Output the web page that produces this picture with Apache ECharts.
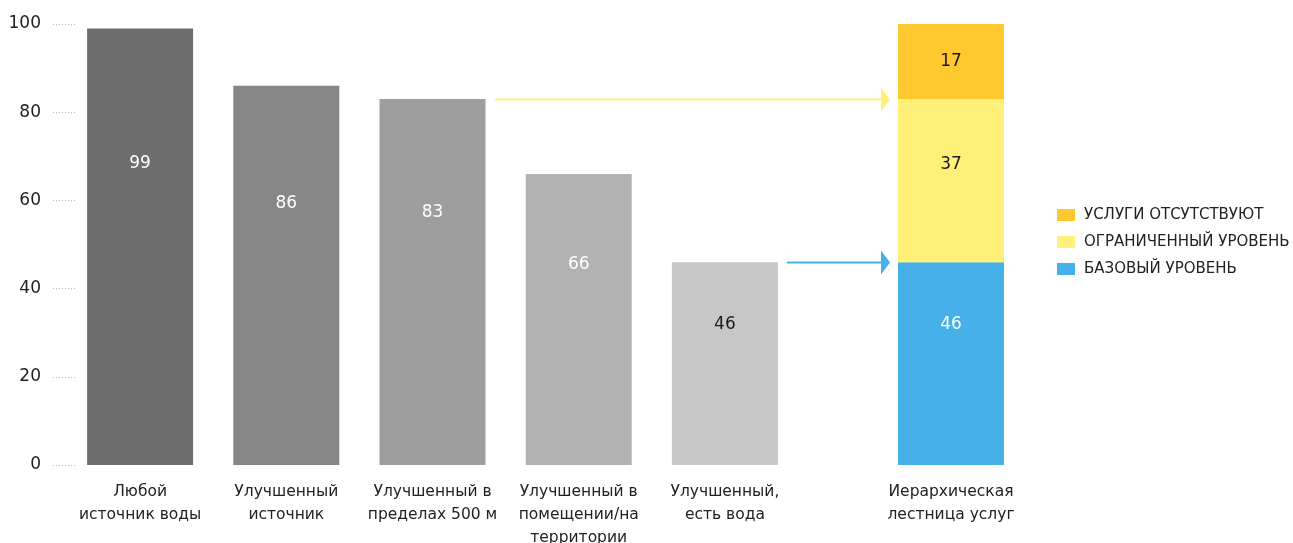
<!DOCTYPE html>
<html><head><meta charset="utf-8">
<script src="https://cdn.jsdelivr.net/npm/echarts@6/dist/echarts.min.js"></script>
<style>html,body{margin:0;padding:0;background:#fff}#c{width:1293px;height:543px}</style>
</head><body><div id="c"></div>
<script>
const categories = ['Любой\nисточник воды','Улучшенный\nисточник','Улучшенный в\nпределах 500 м','Улучшенный в\nпомещении/на\nтерритории','Улучшенный,\nесть вода'];
const values = [99, 86, 83, 66, 46];
const barColors = ['#6d6d6d','#878787','#9e9e9e','#b2b2b2','#c7c7c7'];
const labelColors = ['#ffffff','#ffffff','#ffffff','#ffffff','#1a1a1a'];
const ladderCategory = ['Иерархическая\nлестница услуг'];
const basic = [46];
const limited = [37];
const none = [17];
const seriesNames = ['БАЗОВЫЙ УРОВЕНЬ','ОГРАНИЧЕННЫЙ УРОВЕНЬ','УСЛУГИ ОТСУТСТВУЮТ'];
const yTicks = [0, 20, 40, 60, 80, 100];
const arrows = [{from: 2, value: 83, color: '#fff07a'}, {from: 4, value: 46, color: '#45b1e8'}];

const FONT = 'DejaVu Sans';
const chart = echarts.init(document.getElementById('c'), null, {renderer: 'canvas'});
const barW = 106;
const option = {
  animation: false,
  textStyle: {fontFamily: FONT},
  grid: [
    {left: 67, top: 24, width: 731, height: 441, outerBoundsMode: 'none', containLabel: false},
    {left: 878, top: 24, width: 146, height: 441, outerBoundsMode: 'none', containLabel: false}
  ],
  legend: {
    orient: 'vertical', left: 1052, top: 201, itemWidth: 18, itemHeight: 12, itemGap: 9,
    data: [seriesNames[2], seriesNames[1], seriesNames[0]],
    textStyle: {fontFamily: FONT, fontSize: 15, color: '#222', lineHeight: 18, padding: [0, 0, 0, 4]},
    icon: 'rect', selectedMode: false
  },
  xAxis: [
    {type: 'category', gridIndex: 0, data: categories, axisLine: {show: false}, axisTick: {show: false},
     axisLabel: {interval: 0, fontSize: 15.5, lineHeight: 23, color: '#222', margin: 15}},
    {type: 'category', gridIndex: 1, data: ladderCategory, axisLine: {show: false}, axisTick: {show: false},
     axisLabel: {interval: 0, fontSize: 15.5, lineHeight: 23, color: '#222', margin: 15}}
  ],
  yAxis: [
    {type: 'value', gridIndex: 0, min: yTicks[0], max: yTicks[yTicks.length-1], interval: 20, offset: -8,
     axisLine: {show: false}, splitLine: {show: false},
     axisTick: {show: true, length: 24, lineStyle: {type: [1, 2], color: '#b5b5b5', width: 1}},
     axisLabel: {fontSize: 17, color: '#222', margin: 34}},
    {type: 'value', gridIndex: 1, min: 0, max: 100, show: false}
  ],
  series: [
    {type: 'bar', name: 'main', xAxisIndex: 0, yAxisIndex: 0, barWidth: barW,
     data: values.map((v, i) => ({value: v, itemStyle: {color: barColors[i]},
       label: {show: true, position: ['50%', '31%'], align: 'center', verticalAlign: 'middle', color: labelColors[i], fontSize: 17}}))},
    {type: 'bar', name: seriesNames[0], xAxisIndex: 1, yAxisIndex: 1, stack: 'l', barWidth: barW,
     itemStyle: {color: '#45b1e8'}, data: basic,
     label: {show: true, position: ['50%', '31%'], align: 'center', verticalAlign: 'middle', color: '#fff', fontSize: 17}},
    {type: 'bar', name: seriesNames[1], xAxisIndex: 1, yAxisIndex: 1, stack: 'l', barWidth: barW,
     itemStyle: {color: '#fff07a'}, data: limited,
     label: {show: true, position: ['50%', '40%'], align: 'center', verticalAlign: 'middle', color: '#1a1a1a', fontSize: 17}},
    {type: 'bar', name: seriesNames[2], xAxisIndex: 1, yAxisIndex: 1, stack: 'l', barWidth: barW,
     itemStyle: {color: '#fec82e'}, data: none,
     label: {show: true, position: ['50%', '50%'], align: 'center', verticalAlign: 'middle', color: '#1a1a1a', fontSize: 17}}
  ]
};
chart.setOption(option);

const ladderLeft = chart.convertToPixel({xAxisIndex: 1, yAxisIndex: 1}, [0, 0])[0] - barW / 2;
const elems = [];
arrows.forEach(a => {
  const p = chart.convertToPixel({xAxisIndex: 0, yAxisIndex: 0}, [a.from, a.value]);
  const x0 = p[0] + barW / 2 + 9;
  const x1 = ladderLeft - 8;
  const y = Math.round(p[1]) + 0.5;
  elems.push({type: 'line', shape: {x1: x0, y1: y, x2: x1 - 4, y2: y}, style: {stroke: a.color, lineWidth: 2}, silent: true});
  elems.push({type: 'polygon', shape: {points: [[x1 - 9, y - 12], [x1, y], [x1 - 9, y + 12]]}, style: {fill: a.color}, silent: true});
});
chart.setOption({graphic: elems});
</script></body></html>
